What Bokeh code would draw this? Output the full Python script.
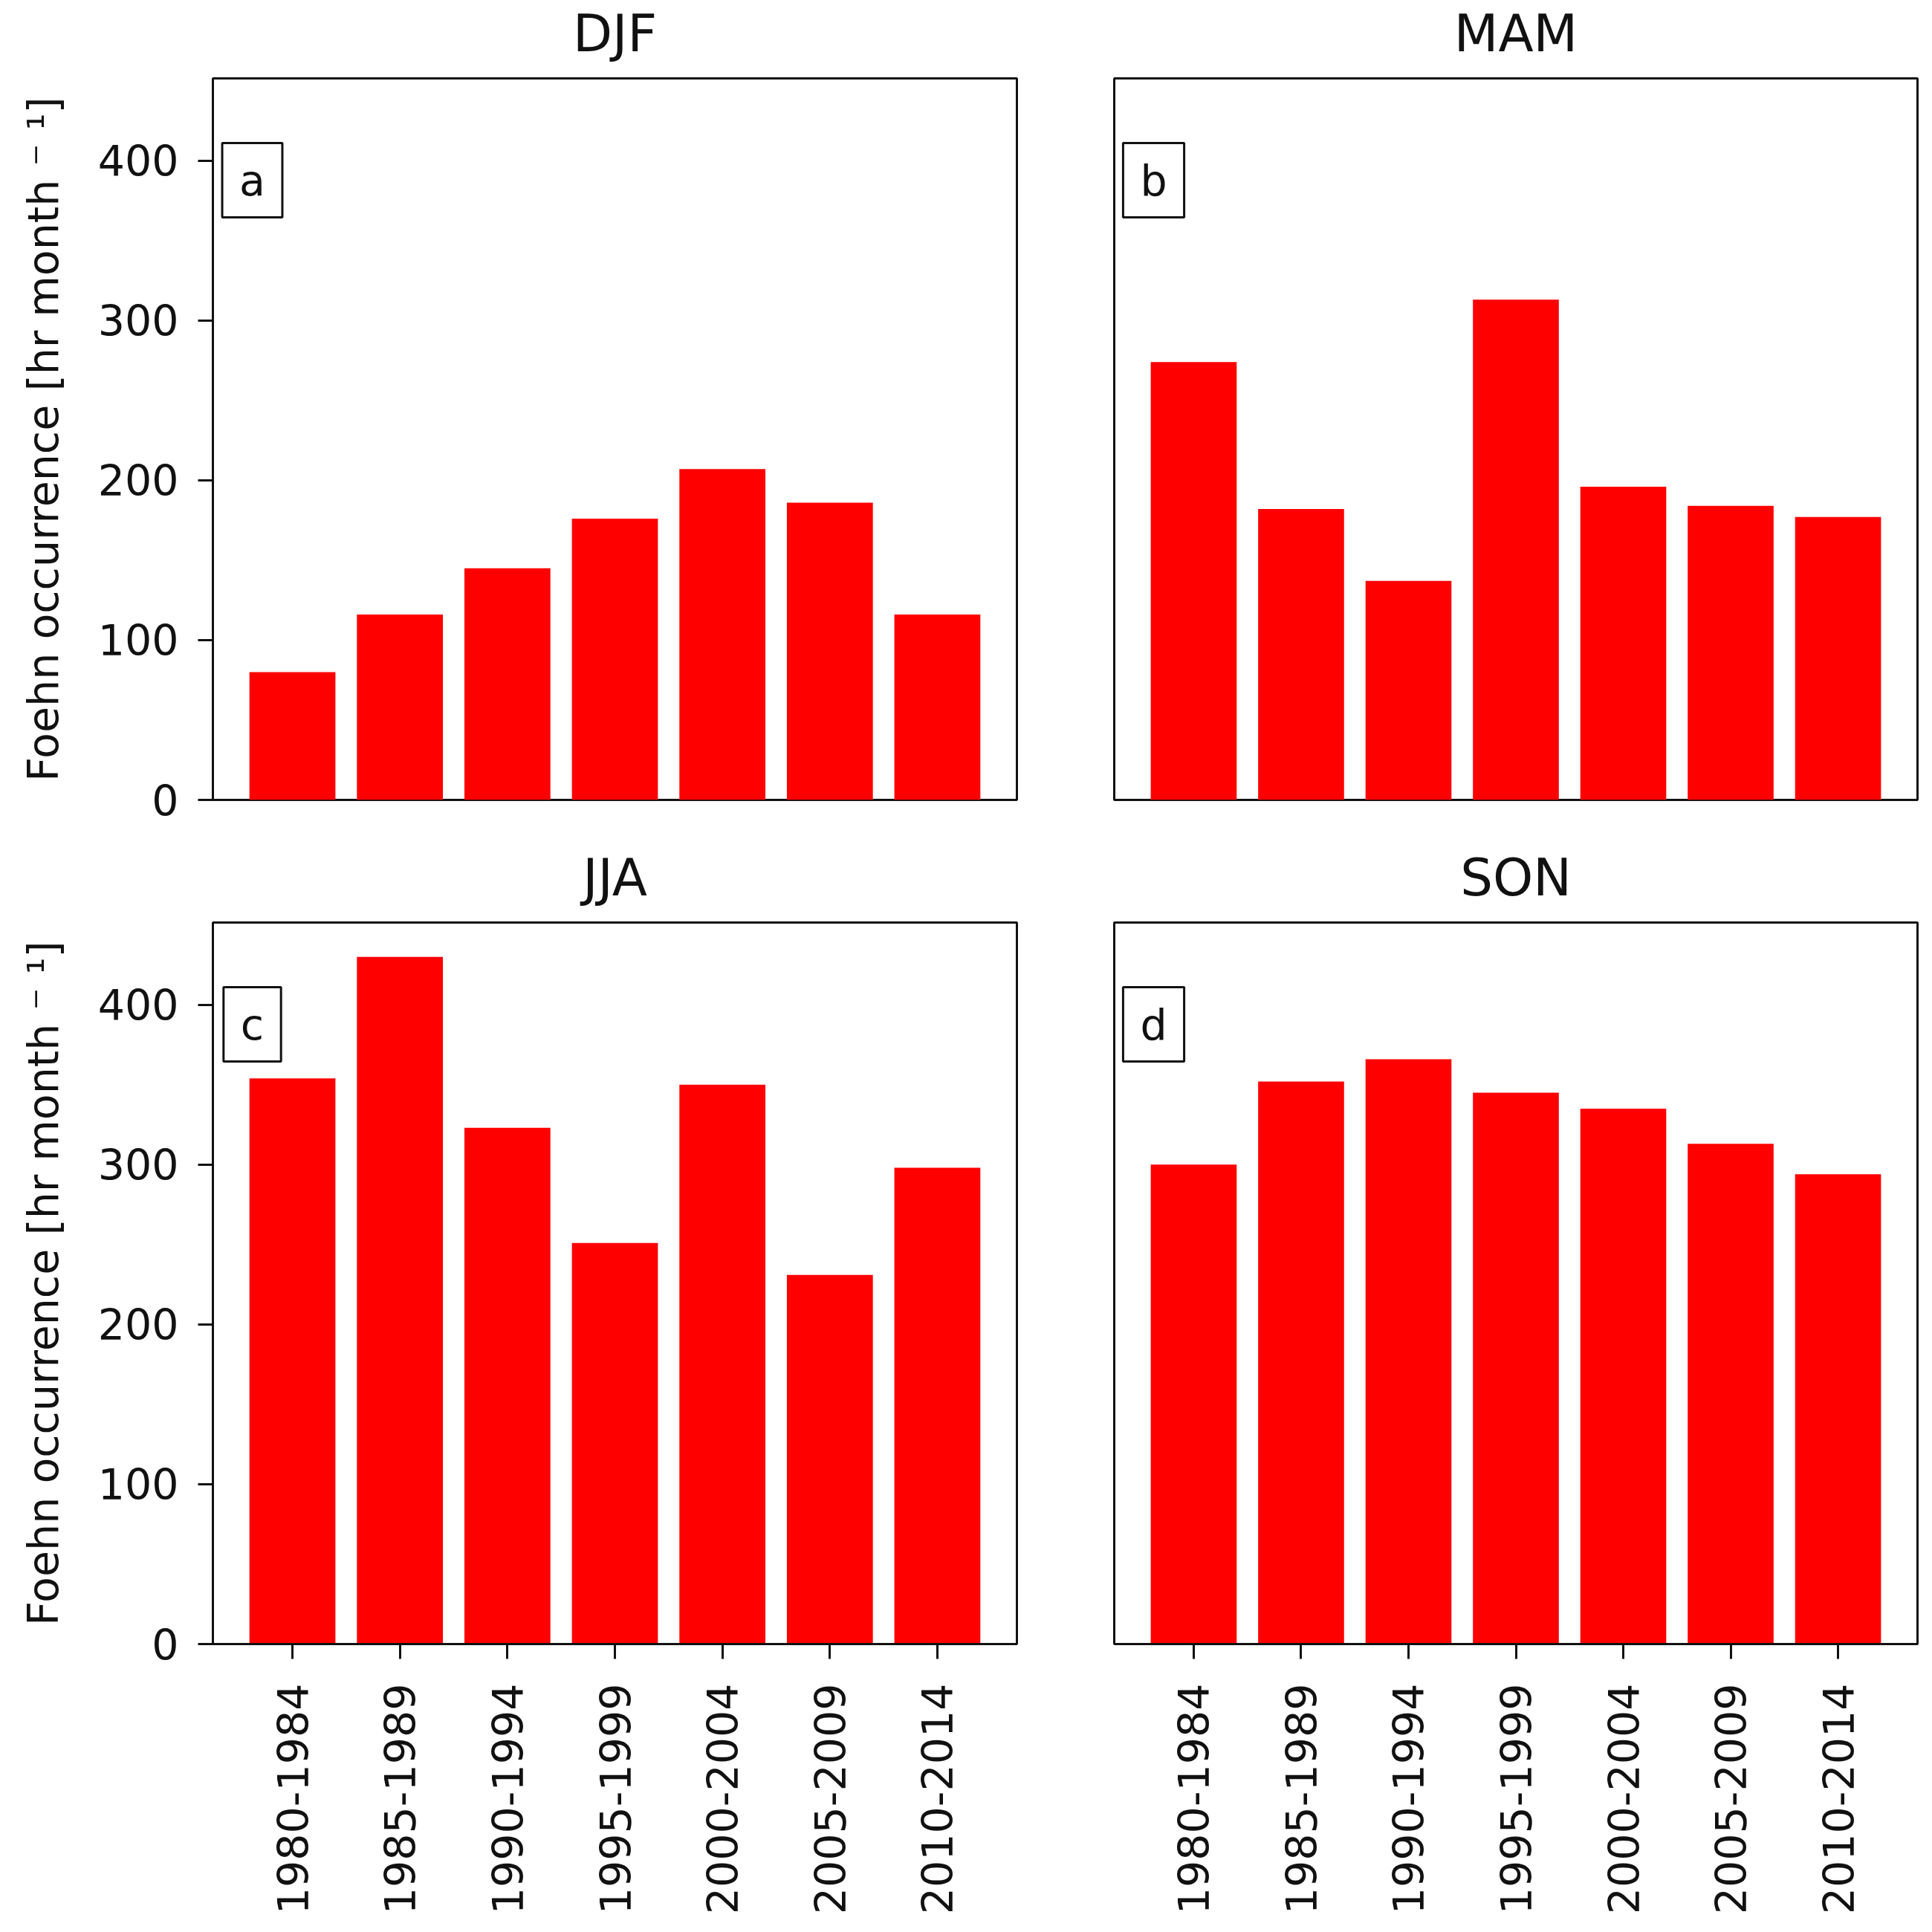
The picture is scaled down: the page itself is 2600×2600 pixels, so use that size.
import math
from bokeh.plotting import figure
from bokeh.models import FactorRange, Range1d, FixedTicker, Label
from bokeh.layouts import column, row
from bokeh.embed import file_html
from bokeh.resources import INLINE

periods = ["1980-1984", "1985-1989", "1990-1994", "1995-1999",
           "2000-2004", "2005-2009", "2010-2014"]
djf = [80, 116, 145, 176, 207, 186, 116]
mam = [274, 182, 137, 313, 196, 184, 177]
jja = [354, 430, 323, 251, 350, 231, 298]
son = [300, 352, 366, 345, 335, 313, 294]
seasons = ["DJF", "MAM", "JJA", "SON"]
letters = ["a", "b", "c", "d"]
y_ticks = [0, 100, 200, 300, 400]
y_max = 451.5
ylabel = "Foehn occurrence [hr month \u207b \u00b9]"

FONT = "DejaVu Sans"
TICK_FS = "57px"
TITLE_FS = "69px"
FW_L, FW_R, FH = 1082, 1081, 971


def make_panel(title, vals, letter, left, bottom):
    fw = FW_L if left else FW_R
    p = figure(
        x_range=FactorRange(factors=periods, range_padding=0.48 / 7),
        y_range=Range1d(0, y_max),
        frame_width=fw,
        frame_height=FH,
        min_border_left=286 if left else 66,
        min_border_right=65 if left else 10,
        min_border_top=125,
        min_border_bottom=362 if bottom else 40,
        toolbar_location=None,
        output_backend="svg",
        title=title,
    )
    p.vbar(x=periods, top=vals, width=0.8, color="#ff0000", line_color=None)

    p.title.align = "center"
    p.title.text_font = FONT
    p.title.text_font_size = TITLE_FS
    p.title.text_font_style = "normal"
    p.title.text_color = "#111111"
    p.title.standoff = 42

    p.xgrid.visible = False
    p.ygrid.visible = False
    p.outline_line_color = "#111111"
    p.outline_line_width = 3
    p.background_fill_color = "white"
    p.border_fill_color = "white"

    for ax in (p.xaxis[0], p.yaxis[0]):
        ax.axis_line_width = 3
        ax.axis_line_color = "#111111"
        ax.major_tick_line_width = 3
        ax.major_tick_line_color = "#111111"
        ax.major_tick_in = 0
        ax.major_tick_out = 20
        ax.minor_tick_line_color = None
        ax.major_label_text_font = FONT
        ax.major_label_text_font_size = TICK_FS
        ax.major_label_text_color = "#111111"

    p.yaxis.ticker = FixedTicker(ticks=y_ticks)
    p.yaxis.major_label_standoff = 26
    if left:
        p.yaxis.axis_label = ylabel
        p.yaxis.axis_label_text_font = FONT
        p.yaxis.axis_label_text_font_size = TICK_FS
        p.yaxis.axis_label_text_font_style = "normal"
        p.yaxis.axis_label_text_color = "#111111"
        p.yaxis.axis_label_standoff = 38
    else:
        p.yaxis.visible = False

    if bottom:
        p.xaxis.major_label_orientation = math.pi / 2
        p.xaxis.major_label_standoff = 33
        p.xaxis.group_text_font_size = "0px"
    else:
        p.xaxis.visible = False

    p.add_layout(Label(
        x=53, y=FH - 137, x_units="screen", y_units="screen",
        text=letter, text_align="center", text_baseline="middle",
        text_font=FONT, text_font_size=TICK_FS, text_color="#111111",
        border_line_color="#111111", border_line_width=3,
        background_fill_color="white", padding=(23, 17),
    ))
    return p


p1 = make_panel(seasons[0], djf, letters[0], True, False)
p2 = make_panel(seasons[1], mam, letters[1], False, False)
p3 = make_panel(seasons[2], jja, letters[2], True, True)
p4 = make_panel(seasons[3], son, letters[3], False, True)

layout = column(row(p1, p2), row(p3, p4))
layout.styles = {"margin-top": "-20px"}

open("out.html", "w").write(file_html(layout, INLINE))
